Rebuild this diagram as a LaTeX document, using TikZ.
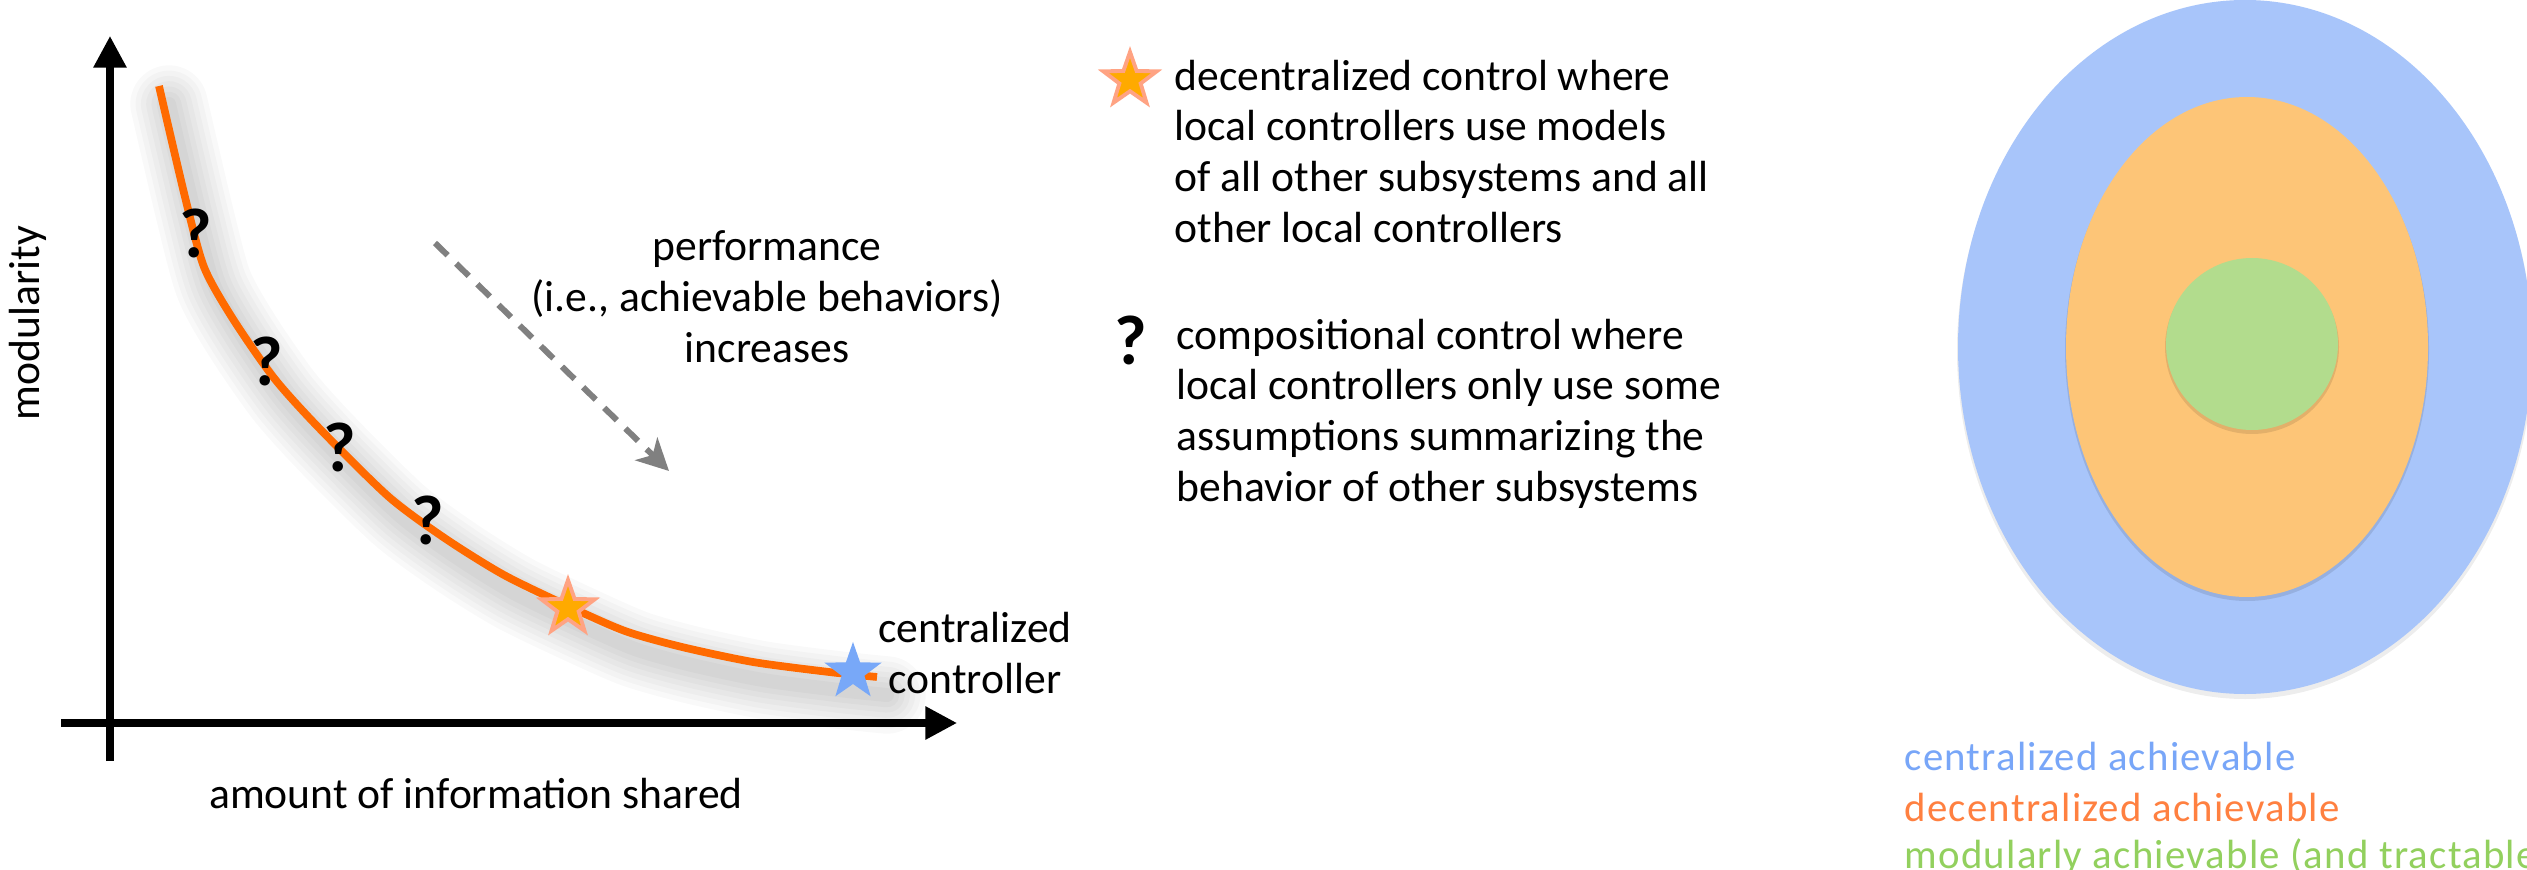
\documentclass[tikz,border=0pt]{standalone}
\usepackage{fontspec}
\setmainfont{Carlito}
\newfontfamily\setfont[LetterSpace=3]{Carlito}
\usetikzlibrary{arrows.meta,shapes.geometric}

\definecolor{curveorange}{HTML}{FF6A00}
\definecolor{starorange}{HTML}{FFAA00}
\definecolor{starrim}{HTML}{FFA383}
\definecolor{starblue}{HTML}{78A8F8}
\definecolor{setblue}{HTML}{A8C5FA}
\definecolor{setorange}{HTML}{FDC577}
\definecolor{setgreen}{HTML}{B2DC8D}
\definecolor{txtblue}{HTML}{78A6F8}
\definecolor{txtorange}{HTML}{FF8040}
\definecolor{txtgreen}{HTML}{92D05E}

\tikzset{
    plotaxis/.style={line width=2pt, -{Triangle[length=9pt, width=9pt]}},
    perfarrow/.style={draw=black!50, line width=1.7pt, dash pattern=on 5pt off 3.4pt,
        -{Stealth[length=9pt, width=9pt, inset=2.5pt]}},
    bodytext/.style={font=\fontsize{12.4}{14.4}\selectfont, inner sep=0pt},
    qmark/.style={font=\fontsize{20}{20}\selectfont\bfseries, inner sep=0pt},
    decstar/.style={star, star points=5, star point ratio=2.5, minimum size=0.56cm,
        inner sep=0pt, fill=starorange, draw=starrim, line width=1.1pt},
    censtar/.style={star, star points=5, star point ratio=2.5, minimum size=0.6cm,
        inner sep=0pt, fill=starblue},
    setlabel/.style={font=\setfont\fontsize{11.6}{14}\selectfont, inner sep=0pt, anchor=base west}
}

% the trade-off curve, in pixel units
\newcommand{\tradeoff}{plot[smooth, tension=0.45] coordinates {(159,86) (185,197) (204,267)
    (233,319) (274,378) (319,428) (389,497) (446,539) (504,575) (568,606) (625,631)
    (682,647) (753,662) (829,672) (877,677)}}

\begin{document}
\begin{tikzpicture}[x=0.01cm, y=-0.01cm]
    \useasboundingbox (0,0) rectangle (2527,870);
    \clip (0,0) rectangle (2527,870);
    \fill[white] (0,0) rectangle (2527,870);

    % ================= left: modularity vs. information =================
    % 1. axes
    \coordinate (ybot) at (110,761);
    \coordinate (ytop) at (110,36);
    \coordinate (xleft) at (61,723);
    \coordinate (xright) at (957,723);
    \draw[plotaxis] (ybot) -- (ytop);
    \draw[plotaxis] (xleft) -- (xright);
    \node[bodytext, rotate=90] (ylabel) at (28,323) {modularity};
    \node[bodytext, anchor=base] (xlabel) at (476,808) {amount of information shared};

    % 2. soft shadow under the curve
    \begin{scope}[shift={(10,18)}]
        \foreach \w in {22, 19, 16, 13, 10, 7, 4} {
            \draw[black, line width=\w pt, opacity=0.022, line cap=round, line join=round] \tradeoff;
        }
    \end{scope}

    % 3. the curve itself
    \draw[curveorange, line width=2.2pt, line join=round] \tradeoff;

    % 4. compositional points
    \foreach \px/\py [count=\i] in {196/233, 267/361, 340/447, 428/520} {
        \node[qmark] (q\i) at (\px,\py) {?};
    }

    % 5. decentralized and centralized points
    \node[decstar] (decpt) at (568,608) {};
    \node[censtar] (cenpt) at (853,672) {};
    \node[bodytext, align=center, anchor=base] (cenlabel) at (975,693) {centralized\\controller};

    % 6. performance arrow
    \coordinate (perfstart) at (435,243);
    \coordinate (perfend) at (669,471);
    \draw[perfarrow] (perfstart) -- (perfend);
    \node[bodytext, align=center, anchor=base] (perflabel) at (767,362)
        {performance\\(i.e., achievable behaviors)\\increases};

    % ================= middle: legend =================
    \node[decstar] (legstar) at (1130,80) {};
    \node[bodytext, align=left, anchor=base west] (legdec) at (1174,242)
        {decentralized control where\\local controllers use models\\of all other subsystems and all\\other local controllers};
    \node[qmark] (legq) at (1131,340) {?};
    \node[bodytext, align=left, anchor=base west] (legcomp) at (1176,501)
        {compositional control where\\local controllers only use some\\assumptions summarizing the\\behavior of other subsystems};

    % ================= right: nested sets =================
    \fill[black, opacity=0.07] (2245,351) ellipse (288 and 348);
    \fill[setblue] (2245,347) ellipse (287 and 347);
    \fill[black, opacity=0.1] (2247,350) ellipse (182 and 251);
    \fill[setorange] (2247,347) ellipse (181 and 250);
    \fill[black, opacity=0.1] (2252,347) ellipse (87 and 87);
    \fill[setgreen] (2252,344) ellipse (86 and 86);

    \node[setlabel, txtblue] (lblcen) at (1904,770) {centralized achievable};
    \node[setlabel, txtorange] (lbldec) at (1904,821) {decentralized achievable};
    \node[setlabel, txtgreen] (lblmod) at (1904,868) {modularly achievable (and tractable};
\end{tikzpicture}
\end{document}
